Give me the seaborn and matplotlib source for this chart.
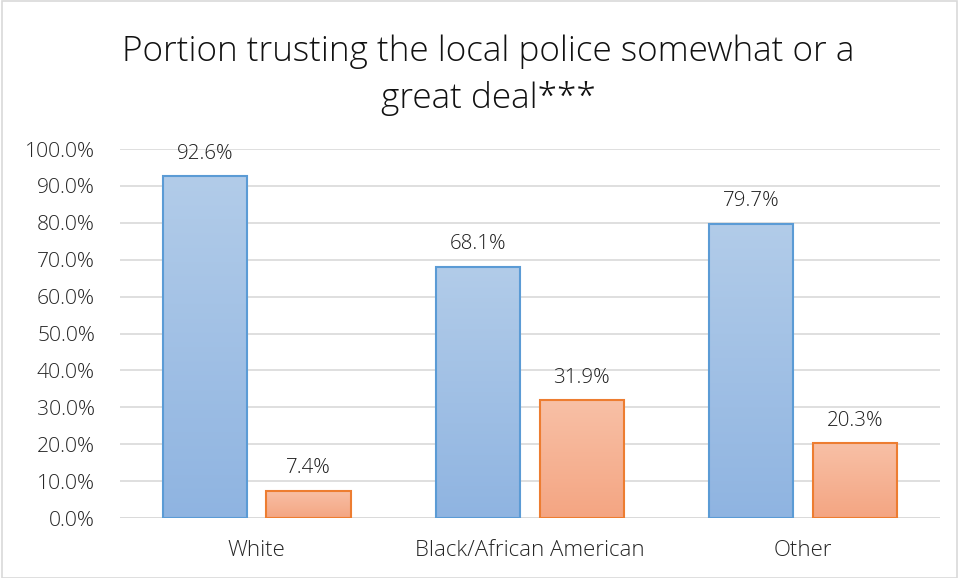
import numpy as np
import pandas as pd
import seaborn as sns
import matplotlib.pyplot as plt
from matplotlib.colors import LinearSegmentedColormap
from matplotlib.patches import Rectangle

# datos
grupos = ["White", "Black/African American", "Other"]
confia = [0.926, 0.681, 0.797]
no_confia = [0.074, 0.319, 0.203]
series = ["Somewhat or a great deal", "Not much or not at all"]

df = pd.DataFrame({
    "grupo": grupos * 2,
    "valor": confia + no_confia,
    "serie": [series[0]] * 3 + [series[1]] * 3,
})

sns.set_style("white")
plt.rcParams["font.family"] = ["Open Sans", "DejaVu Sans"]
plt.rcParams["font.weight"] = "light"

fig = plt.figure(figsize=(9.59, 5.78), dpi=100)
ax = fig.add_axes([0.1251, 0.1038, 0.855, 0.6384])

bordes = ["#5b9bd5", "#ed7d31"]
sns.barplot(data=df, x="grupo", y="valor", hue="serie", order=grupos,
            hue_order=series, width=0.76, gap=0.19, palette=bordes,
            legend=False, ax=ax, zorder=3)

# degradado estilo Excel en las barras
degradados = [("#b2cce9", "#8fb4e1"), ("#f8c0a6", "#f4a582")]
for i, cont in enumerate(ax.containers):
    cmap = LinearSegmentedColormap.from_list("g", [degradados[i][1], degradados[i][0]])
    for barra in cont:
        x0, y0 = barra.get_x(), barra.get_y()
        w, h = barra.get_width(), barra.get_height()
        barra.set_facecolor("none")
        barra.set_edgecolor(bordes[i])
        barra.set_linewidth(1.5)
        barra.set_zorder(4)
        img = ax.imshow(np.linspace(0, 1, 256).reshape(-1, 1), cmap=cmap,
                        extent=[x0, x0 + w, y0, y0 + h], origin="lower",
                        aspect="auto", zorder=3)
        img.set_clip_path(barra)
    ax.bar_label(cont, labels=[f"{v * 100:.1f}%" for v in cont.datavalues],
                 padding=9, fontsize=14.8, color="#1f1f1f")

ax.set_xlim(-0.5, 2.5)
ax.set_ylim(0, 1.0)
ax.set_yticks(np.arange(0, 1.01, 0.1))
ax.set_yticklabels([f"{v * 100:.1f}%" for v in np.arange(0, 1.01, 0.1)])
ax.grid(axis="y", color="#d9d9d9", linewidth=1.2, zorder=0)
ax.set_axisbelow(True)
for s in ax.spines.values():
    s.set_visible(False)
ax.axhline(0, color="#d9d9d9", linewidth=1.2, zorder=2)
ax.tick_params(axis="y", labelsize=15.2, colors="#262626", length=0, pad=18)
ax.tick_params(axis="x", labelsize=16, colors="#262626", length=0, pad=16)
ax.set_xlabel("")
ax.set_ylabel("")

fig.text(0.509, 0.870, "Portion trusting the local police somewhat or a\ngreat deal***",
         ha="center", va="center", fontsize=25.3, color="#111111", linespacing=1.42)

fig.patches.append(Rectangle((0.002, 0.0), 0.996, 0.998, transform=fig.transFigure,
                             fill=False, edgecolor="#d9d9d9", linewidth=1.2))

fig.savefig("out.png", dpi=100)
